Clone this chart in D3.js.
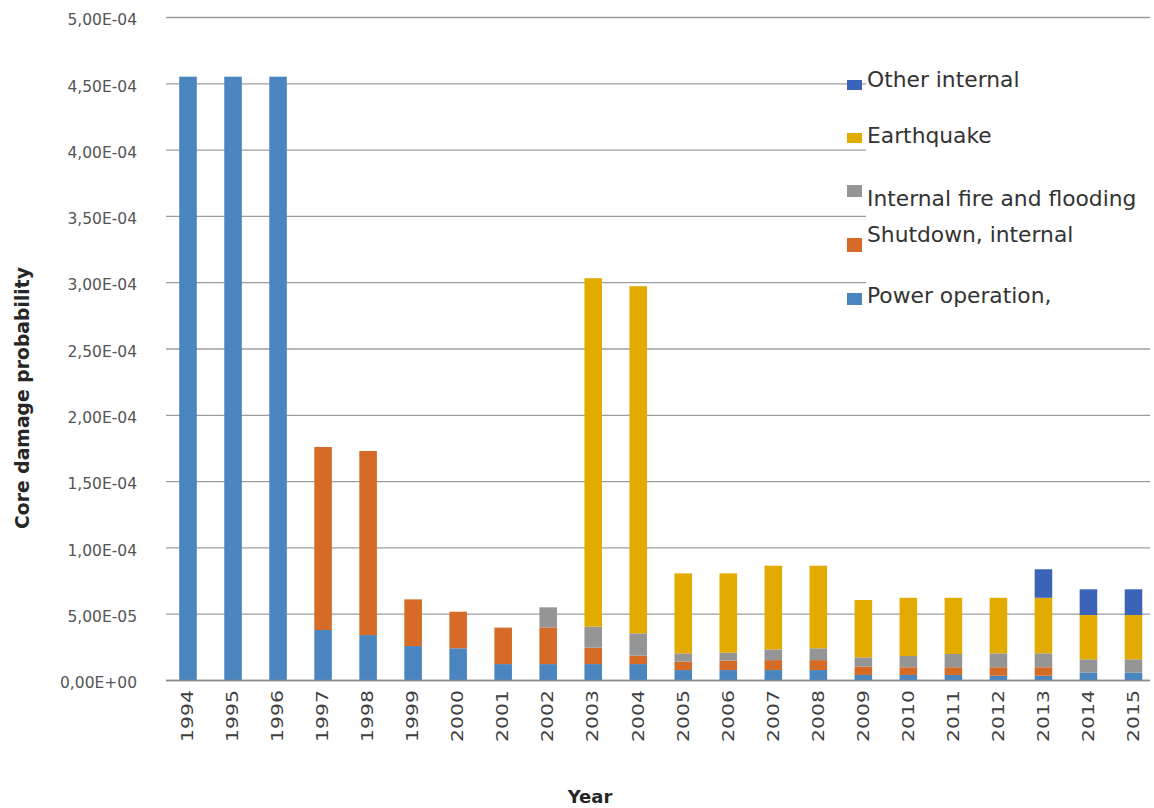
<!DOCTYPE html>
<html><head><meta charset="utf-8">
<script src="https://cdn.jsdelivr.net/npm/d3@7"></script>
<style>body{margin:0;background:#fff}svg{display:block}</style>
</head><body><svg id="c" width="1154" height="808"></svg>
<script>
// ---- data ----
const years = ["1994","1995","1996","1997","1998","1999","2000","2001","2002","2003","2004",
               "2005","2006","2007","2008","2009","2010","2011","2012","2013","2014","2015"];
const powerOperation      = [4.55e-4,4.55e-4,4.55e-4,3.77e-5,3.39e-5,2.56e-5,2.39e-5,1.20e-5,1.20e-5,1.20e-5,1.20e-5,
                             0.75e-5,0.75e-5,0.75e-5,0.75e-5,0.38e-5,0.38e-5,0.38e-5,0.32e-5,0.32e-5,0.55e-5,0.55e-5];
const shutdownInternal    = [0,0,0,13.8e-5,13.88e-5,3.52e-5,2.76e-5,2.75e-5,2.77e-5,1.24e-5,0.64e-5,
                             0.63e-5,0.71e-5,0.75e-5,0.75e-5,0.62e-5,0.58e-5,0.58e-5,0.64e-5,0.64e-5,0,0];
const internalFireFlood   = [0,0,0,0,0,0,0,0,1.51e-5,1.58e-5,1.68e-5,
                             0.63e-5,0.60e-5,0.81e-5,0.89e-5,0.71e-5,0.85e-5,1.00e-5,1.05e-5,1.05e-5,1.01e-5,1.01e-5];
const earthquake          = [0,0,0,0,0,0,0,0,0,26.28e-5,26.18e-5,
                             6.03e-5,5.98e-5,6.31e-5,6.23e-5,4.32e-5,4.39e-5,4.24e-5,4.19e-5,4.19e-5,3.34e-5,3.34e-5];
const otherInternal       = [0,0,0,0,0,0,0,0,0,0,0,
                             0,0,0,0,0,0,0,0,2.15e-5,1.94e-5,1.94e-5];
const seriesKeys   = ["power","shutdown","fire","quake","other"];
const seriesLabels = ["Power operation,","Shutdown, internal","Internal fire and flooding","Earthquake","Other internal"];
const yTickValues  = [0,5e-5,1e-4,1.5e-4,2e-4,2.5e-4,3e-4,3.5e-4,4e-4,4.5e-4,5e-4];
const yTickLabels  = ["0,00E+00","5,00E-05","1,00E-04","1,50E-04","2,00E-04","2,50E-04",
                      "3,00E-04","3,50E-04","4,00E-04","4,50E-04","5,00E-04"];

// ---- styles / layout ----
const colors = {power:"#4a85c0",shutdown:"#d66a27",fire:"#959595",quake:"#e3aa00",other:"#3b63b8"};
const svg = d3.select("#c");
const x = d3.scaleBand().domain(years).range([165.5,1156]).paddingInner(0.61).paddingOuter(0.305);
const y = d3.scaleLinear().domain([0,5e-4]).range([680,17]);

const rows = years.map((yr,i)=>({year:yr,power:powerOperation[i],shutdown:shutdownInternal[i],
  fire:internalFireFlood[i],quake:earthquake[i],other:otherInternal[i]}));
const stacked = d3.stack().keys(seriesKeys)(rows);

// gridlines
const yAxis = d3.axisLeft(y).tickValues(yTickValues).tickSize(-(1150-166))
  .tickFormat((d,i)=>yTickLabels[i]).tickPadding(30);
const gy = svg.append("g").attr("transform","translate(166,0)").call(yAxis);
gy.select(".domain").remove();
gy.selectAll(".tick line").attr("stroke","#9c9c9c").attr("stroke-width",1.3);
gy.selectAll(".tick text").attr("font-family","DejaVu Sans").attr("font-size",15.5)
  .attr("fill","#555").attr("x",-29).attr("dy","0.5em");

// bars
svg.append("g").selectAll("g").data(stacked).join("g").attr("fill",d=>colors[d.key])
  .selectAll("rect").data(d=>d.filter(p=>p[1]-p[0]>0)).join("rect")
  .attr("x",d=>x(d.data.year)).attr("width",x.bandwidth())
  .attr("y",d=>y(d[1])).attr("height",d=>y(d[0])-y(d[1]));

// x axis line
svg.append("line").attr("x1",166).attr("x2",1150).attr("y1",680.5).attr("y2",680.5)
  .attr("stroke","#8a8a8a").attr("stroke-width",1.6);

// x labels
const xAxis = d3.axisBottom(x).tickSize(0);
const gx = svg.append("g").attr("transform","translate(0,680)").call(xAxis);
gx.select(".domain").remove();
gx.selectAll(".tick text").attr("font-family","DejaVu Sans").attr("font-size",15)
  .attr("fill","#404040").attr("text-anchor","end").attr("y",0).attr("dy","0.35em")
  .attr("transform","translate(0,10) rotate(-90) scale(1.36,1)");

// axis titles
svg.append("text").attr("transform","translate(22,398) rotate(-90)").attr("text-anchor","middle")
  .attr("dy","0.35em").attr("font-family","DejaVu Sans").attr("font-weight","bold").attr("font-size",18.8)
  .attr("fill","#262626").text("Core damage probability");
svg.append("text").attr("x",590).attr("y",803).attr("text-anchor","middle")
  .attr("font-family","DejaVu Sans").attr("font-weight","bold").attr("font-size",18)
  .attr("fill","#262626").text("Year");

// legend
svg.append("rect").attr("x",866).attr("y",60).attr("width",284).attr("height",272).attr("fill","#fff");
const legendLayout = [ // order top to bottom: key index, swatch y, swatch h, text baseline
  {k:4, sy:80, sh:10, ty:87},
  {k:3, sy:133, sh:10, ty:143},
  {k:2, sy:185, sh:12, ty:206},
  {k:1, sy:238, sh:14, ty:242},
  {k:0, sy:293, sh:12, ty:303}
];
const lg = svg.append("g");
legendLayout.forEach(l=>{
  lg.append("rect").attr("x",847).attr("y",l.sy).attr("width",15).attr("height",l.sh)
    .attr("fill",colors[seriesKeys[l.k]]);
  lg.append("text").attr("x",867).attr("y",l.ty).attr("font-family","DejaVu Sans")
    .attr("font-size",21.8).attr("fill","#333").text(seriesLabels[l.k]);
});
</script></body></html>
